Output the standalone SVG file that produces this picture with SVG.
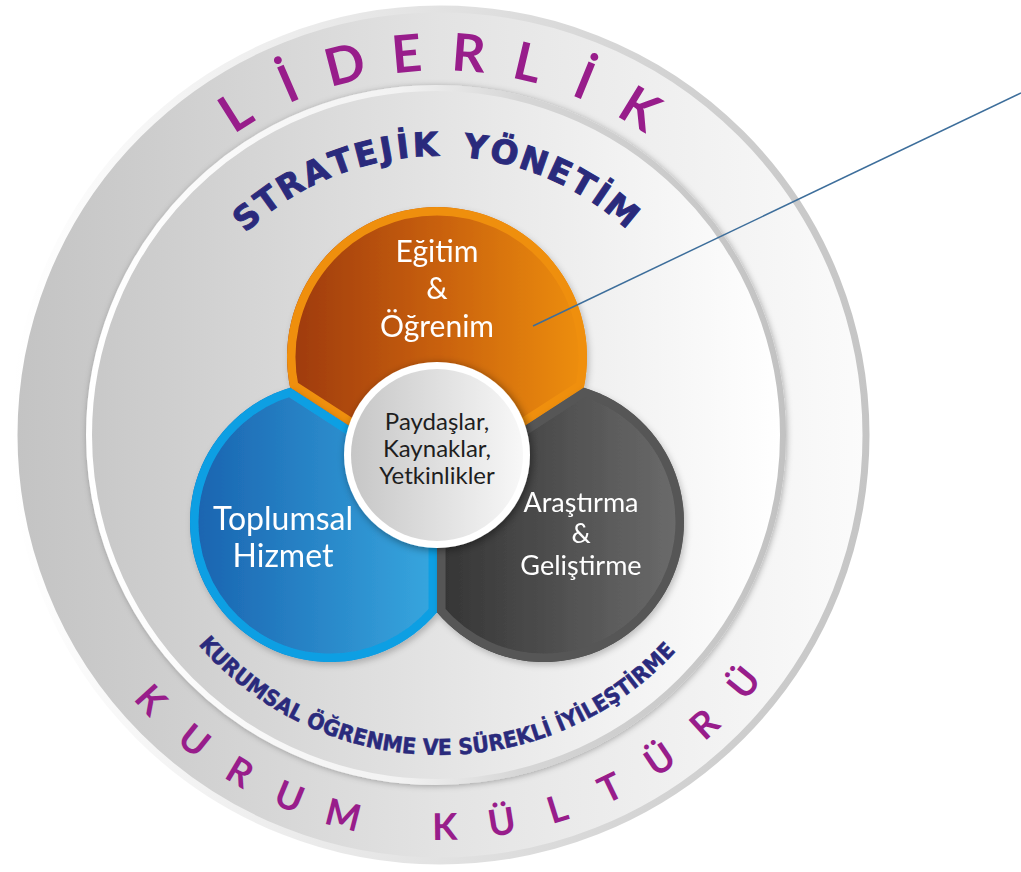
<svg xmlns="http://www.w3.org/2000/svg" width="1021" height="872" viewBox="0 0 1021 872">
  <style>
    .ring-txt { font-family: "Lato", "Liberation Sans", sans-serif; fill: #981d8b; text-anchor: middle; font-weight: bold; }
    .big { font-size: 52px; }
    .mid { font-size: 37px; }
    .navy { font-family: "DejaVu Sans", "Liberation Sans", sans-serif; font-weight: bold; fill: #2a2a7c; stroke: #2a2a7c; stroke-width: 0.9; text-anchor: middle; font-size: 33px; }
    .navy-c { font-family: "DejaVu Sans Condensed", "DejaVu Sans", sans-serif; font-weight: bold; fill: #2a2a7c; stroke: #2a2a7c; stroke-width: 0.5; }
    .lbl { font-family: "Lato", "Liberation Sans", sans-serif; fill: #ffffff; text-anchor: middle; }
    .core { font-family: "Lato", "Liberation Sans", sans-serif; fill: #1e1e1e; text-anchor: middle; font-size: 24px; }
  </style>
  <defs>
    <linearGradient id="gOuter" gradientUnits="userSpaceOnUse" x1="13" y1="0" x2="868" y2="0">
      <stop offset="0" stop-color="#c3c3c3"/>
      <stop offset="0.5" stop-color="#e3e3e3"/>
      <stop offset="1" stop-color="#fbfbfb"/>
    </linearGradient>
    <linearGradient id="gOuterEdge" gradientUnits="userSpaceOnUse" x1="13" y1="0" x2="868" y2="0">
      <stop offset="0" stop-color="#ffffff"/>
      <stop offset="0.5" stop-color="#e2e2e2"/>
      <stop offset="1" stop-color="#c5c5c5"/>
    </linearGradient>
    <linearGradient id="gInner" gradientUnits="userSpaceOnUse" x1="89" y1="0" x2="783" y2="0">
      <stop offset="0" stop-color="#c8c8c8"/>
      <stop offset="1" stop-color="#ffffff"/>
    </linearGradient>
    <linearGradient id="gInnerEdge" gradientUnits="userSpaceOnUse" x1="89" y1="0" x2="783" y2="0">
      <stop offset="0" stop-color="#ffffff"/>
      <stop offset="0.45" stop-color="#f2f2f2"/>
      <stop offset="0.62" stop-color="#d6d6d6"/>
      <stop offset="1" stop-color="#c2c2c2"/>
    </linearGradient>
    <linearGradient id="gOrange" gradientUnits="userSpaceOnUse" x1="290" y1="0" x2="584" y2="0">
      <stop offset="0" stop-color="#9e3a10"/>
      <stop offset="0.5" stop-color="#c8600c"/>
      <stop offset="1" stop-color="#ee8f0a"/>
    </linearGradient>
    <linearGradient id="gBlue" gradientUnits="userSpaceOnUse" x1="195" y1="0" x2="437" y2="0">
      <stop offset="0" stop-color="#1a64b0"/>
      <stop offset="1" stop-color="#37a7df"/>
    </linearGradient>
    <linearGradient id="gGrey" gradientUnits="userSpaceOnUse" x1="437" y1="0" x2="684" y2="0">
      <stop offset="0" stop-color="#343434"/>
      <stop offset="1" stop-color="#6c6c6c"/>
    </linearGradient>
    <linearGradient id="gCore" gradientUnits="userSpaceOnUse" x1="350" y1="0" x2="524" y2="0">
      <stop offset="0" stop-color="#c6c6c6"/>
      <stop offset="1" stop-color="#f8f8f8"/>
    </linearGradient>
    <filter id="soft" x="-10%" y="-10%" width="120%" height="120%">
      <feDropShadow dx="1" dy="1" stdDeviation="3" flood-color="#000" flood-opacity="0.3"/>
    </filter>
    <filter id="lobeShadow" x="-10%" y="-10%" width="120%" height="120%">
      <feDropShadow dx="2" dy="3" stdDeviation="3" flood-color="#000" flood-opacity="0.22"/>
    </filter>
    <filter id="coreShadow" x="-20%" y="-20%" width="140%" height="140%">
      <feDropShadow dx="2" dy="2" stdDeviation="4" flood-color="#000" flood-opacity="0.45"/>
    </filter>
    <path id="pOrange" d="M 290.20 387.77 A 150 150 0 1 1 583.80 387.77 L 437 482.97 Z"/>
    <path id="pBlue" d="M 437 612.28 A 140 140 0 1 1 290.20 387.77 L 437 482.97 Z"/>
    <path id="pGrey" d="M 583.80 387.77 A 140 140 0 1 1 437 612.28 L 437 482.97 Z"/>
    <clipPath id="cOrange"><use href="#pOrange"/></clipPath>
    <clipPath id="cBlue"><use href="#pBlue"/></clipPath>
    <clipPath id="cGrey"><use href="#pGrey"/></clipPath>
    <path id="arcBottom" d="M 120 435 A 320 320 0 0 0 760 435"/>
  </defs>

  <rect width="1021" height="872" fill="#ffffff"/>

  <!-- outer ring: Liderlik / Kurum Kültürü -->
  <g id="ring-outer">
    <circle cx="440" cy="435" r="426" fill="url(#gOuter)" stroke="url(#gOuterEdge)" stroke-width="7"/>
    <g class="ring-txt big">
      <text x="440" y="70.6" transform="rotate(-32.3 440 435)">L</text>
      <text x="440" y="70.6" transform="rotate(-23.4 440 435)">İ</text>
      <text x="440" y="70.6" transform="rotate(-14.4 440 435)">D</text>
      <text x="440" y="70.6" transform="rotate(-5 440 435)">E</text>
      <text x="440" y="70.6" transform="rotate(4.3 440 435)">R</text>
      <text x="440" y="70.6" transform="rotate(13.3 440 435)">L</text>
      <text x="440" y="70.6" transform="rotate(22.2 440 435)">İ</text>
      <text x="440" y="70.6" transform="rotate(31.5 440 435)">K</text>
    </g>
    <g class="ring-txt mid">
      <text x="440" y="840" transform="rotate(47.5 440 435)">K</text>
      <text x="440" y="840" transform="rotate(38.8 440 435)">U</text>
      <text x="440" y="840" transform="rotate(30.7 440 435)">R</text>
      <text x="440" y="840" transform="rotate(22.6 440 435)">U</text>
      <text x="440" y="840" transform="rotate(14.3 440 435)">M</text>
      <text x="440" y="840" transform="rotate(-0.7 440 435)">K</text>
      <text x="440" y="840" transform="rotate(-9.05 440 435)">Ü</text>
      <text x="440" y="840" transform="rotate(-17.4 440 435)">L</text>
      <text x="440" y="840" transform="rotate(-25.75 440 435)">T</text>
      <text x="440" y="840" transform="rotate(-34.1 440 435)">Ü</text>
      <text x="440" y="840" transform="rotate(-42.45 440 435)">R</text>
      <text x="440" y="840" transform="rotate(-50.8 440 435)">Ü</text>
    </g>
  </g>

  <!-- inner disc: Stratejik Yönetim / Kurumsal Öğrenme -->
  <g id="ring-inner">
    <circle cx="436" cy="435" r="347" fill="url(#gInner)" stroke="url(#gInnerEdge)" stroke-width="6" filter="url(#soft)"/>
    <g class="navy">
      <text x="438" y="156" transform="rotate(-41.2 438 435)">S</text>
      <text x="438" y="156" transform="rotate(-35.97 438 435)">T</text>
      <text x="438" y="156" transform="rotate(-30.59 438 435)">R</text>
      <text x="438" y="156" transform="rotate(-24.95 438 435)">A</text>
      <text x="438" y="156" transform="rotate(-19.57 438 435)">T</text>
      <text x="438" y="156" transform="rotate(-14.45 438 435)">E</text>
      <text x="438" y="156" transform="rotate(-10.25 438 435)">J</text>
      <text x="438" y="156" transform="rotate(-6.96 438 435)">İ</text>
      <text x="438" y="156" transform="rotate(-2.48 438 435)">K</text>
      <text x="438" y="156" transform="rotate(7.5 438 435)">Y</text>
      <text x="438" y="156" transform="rotate(13.23 438 435)">Ö</text>
      <text x="438" y="156" transform="rotate(19.29 438 435)">N</text>
      <text x="438" y="156" transform="rotate(24.86 438 435)">E</text>
      <text x="438" y="156" transform="rotate(29.98 438 435)">T</text>
      <text x="438" y="156" transform="rotate(34.18 438 435)">İ</text>
      <text x="438" y="156" transform="rotate(39.31 438 435)">M</text>
    </g>
    <text class="navy-c" font-size="22" text-anchor="middle">
      <textPath href="#arcBottom" startOffset="498.2" textLength="539" lengthAdjust="spacingAndGlyphs">KURUMSAL ÖĞRENME VE SÜREKLİ İYİLEŞTİRME</textPath>
    </text>
  </g>

  <!-- three lobes -->
  <g id="lobe-egitim" filter="url(#lobeShadow)">
    <use href="#pOrange" fill="url(#gOrange)"/>
    <use href="#pOrange" fill="none" stroke="#ef8f10" stroke-width="17" clip-path="url(#cOrange)"/>
    <text class="lbl" font-size="30" x="437" y="262">Eğitim</text>
    <text class="lbl" font-size="30" x="437" y="299">&amp;</text>
    <text class="lbl" font-size="30" x="437" y="337">Öğrenim</text>
  </g>
  <g id="lobe-toplumsal" filter="url(#lobeShadow)">
    <use href="#pBlue" fill="url(#gBlue)"/>
    <use href="#pBlue" fill="none" stroke="#0f9fe3" stroke-width="17" clip-path="url(#cBlue)"/>
    <text class="lbl" font-size="32" x="283" y="530">Toplumsal</text>
    <text class="lbl" font-size="32" x="283" y="567">Hizmet</text>
  </g>
  <g id="lobe-arastirma" filter="url(#lobeShadow)">
    <use href="#pGrey" fill="url(#gGrey)"/>
    <use href="#pGrey" fill="none" stroke="#565656" stroke-width="17" clip-path="url(#cGrey)"/>
    <text class="lbl" font-size="27" x="581" y="512">Araştırma</text>
    <text class="lbl" font-size="27" x="581" y="543">&amp;</text>
    <text class="lbl" font-size="27" x="581" y="575">Geliştirme</text>
  </g>

  <!-- core -->
  <g id="core">
    <circle cx="437" cy="455" r="93" fill="#ffffff" filter="url(#coreShadow)"/>
    <circle cx="437" cy="455" r="86" fill="url(#gCore)"/>
    <text class="core" x="437" y="430">Paydaşlar,</text>
    <text class="core" x="437" y="457">Kaynaklar,</text>
    <text class="core" x="437" y="484">Yetkinlikler</text>
  </g>

  <!-- connectors -->
  <g id="connectors">
    <line x1="533" y1="326" x2="1021" y2="93" stroke="#3d6e9b" stroke-width="1.5"/>
  </g>
</svg>
